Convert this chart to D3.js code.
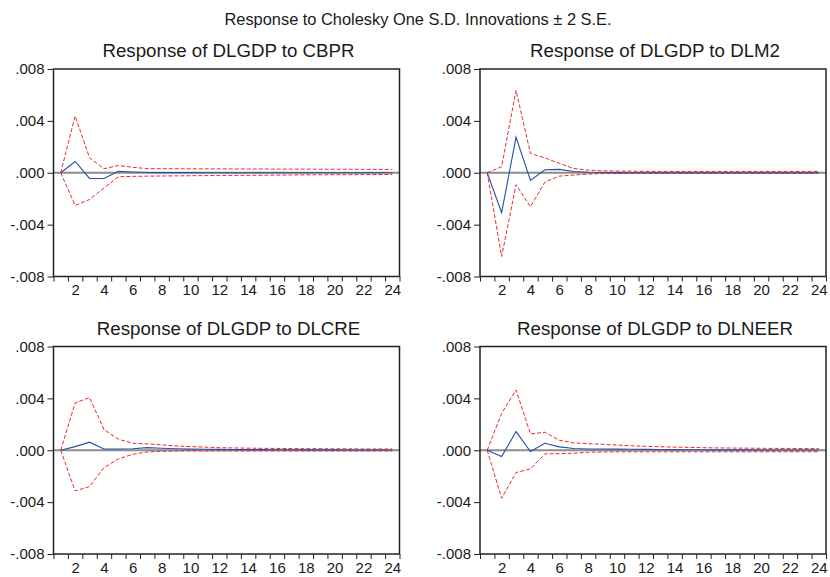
<!DOCTYPE html>
<html>
<head>
<meta charset="utf-8">
<script src="https://cdn.jsdelivr.net/npm/d3@7"></script>
<style>
  html, body { margin: 0; padding: 0; background: #fff; }
  svg { display: block; font-family: "Liberation Sans", Arial, sans-serif; }
</style>
</head>
<body>
<svg id="chart" width="830" height="577"></svg>
<script>
// Impulse responses of DLGDP, periods 1..24, with ±2 S.E. bands
const periods = d3.range(1, 25);
const yTicks = [-0.008, -0.004, 0, 0.004, 0.008];
const xLabelTicks = [2, 4, 6, 8, 10, 12, 14, 16, 18, 20, 22, 24];

const shocks = ["CBPR", "DLM2", "DLCRE", "DLNEER"];

const respCBPR  = [0, 0.00087, -0.00044, -0.00044, 0.00012, 0.00006, 0.00002, 0.00001, 0.00001, 0.00001, 0, 0, 0, 0, 0, 0, 0, 0, 0, 0, 0, 0, 0, 0];
const upperCBPR = [0, 0.00437, 0.00116, 0.00031, 0.00056, 0.00042, 0.00032, 0.00031, 0.00031, 0.00030, 0.00030, 0.00030, 0.00029, 0.00029, 0.00029, 0.00028, 0.00028, 0.00028, 0.00027, 0.00027, 0.00027, 0.00026, 0.00026, 0.00026];
const lowerCBPR = [0, -0.00252, -0.00206, -0.00118, -0.00031, -0.00028, -0.00026, -0.00025, -0.00024, -0.00023, -0.00022, -0.00021, -0.00020, -0.00020, -0.00019, -0.00018, -0.00017, -0.00016, -0.00016, -0.00015, -0.00015, -0.00014, -0.00014, -0.00013];

const respDLM2  = [0, -0.00308, 0.00274, -0.00059, 0.00023, 0.00026, 0.00010, 0.00004, 0.00002, 0.00001, 0, 0, 0, 0, 0, 0, 0, 0, 0, 0, 0, 0, 0, 0];
const upperDLM2 = [0, 0.00046, 0.00636, 0.00149, 0.00115, 0.00072, 0.00033, 0.00020, 0.00015, 0.00013, 0.00012, 0.00011, 0.00010, 0.00010, 0.00010, 0.00010, 0.00010, 0.00010, 0.00010, 0.00010, 0.00010, 0.00010, 0.00010, 0.00010];
const lowerDLM2 = [0, -0.00646, -0.00092, -0.00262, -0.00072, -0.00026, -0.00018, -0.00010, -0.00007, -0.00006, -0.00005, -0.00005, -0.00005, -0.00005, -0.00005, -0.00005, -0.00005, -0.00005, -0.00005, -0.00005, -0.00005, -0.00005, -0.00005, -0.00005];

const respDLCRE  = [0, 0.00028, 0.00062, 0.00010, 0.00010, 0.00012, 0.00020, 0.00015, 0.00011, 0.00009, 0.00008, 0.00007, 0.00006, 0.00005, 0.00005, 0.00004, 0.00004, 0.00003, 0.00003, 0.00003, 0.00002, 0.00002, 0.00002, 0.00002];
const upperDLCRE = [0, 0.00365, 0.00406, 0.00160, 0.00085, 0.00054, 0.00049, 0.00041, 0.00033, 0.00028, 0.00024, 0.00020, 0.00018, 0.00016, 0.00015, 0.00014, 0.00013, 0.00012, 0.00012, 0.00011, 0.00011, 0.00010, 0.00010, 0.00010];
const lowerDLCRE = [0, -0.00314, -0.00280, -0.00134, -0.00067, -0.00031, -0.00013, -0.00008, -0.00006, -0.00005, -0.00005, -0.00005, -0.00005, -0.00005, -0.00005, -0.00005, -0.00005, -0.00005, -0.00005, -0.00005, -0.00005, -0.00005, -0.00005, -0.00005];

const respDLNEER  = [0, -0.00049, 0.00144, -0.00010, 0.00054, 0.00026, 0.00013, 0.00010, 0.00010, 0.00009, 0.00008, 0.00007, 0.00006, 0.00005, 0.00004, 0.00004, 0.00003, 0.00003, 0.00003, 0.00002, 0.00002, 0.00002, 0.00002, 0.00002];
const upperDLNEER = [0, 0.00285, 0.00465, 0.00126, 0.00139, 0.00077, 0.00057, 0.00051, 0.00046, 0.00040, 0.00035, 0.00030, 0.00027, 0.00024, 0.00022, 0.00020, 0.00018, 0.00017, 0.00016, 0.00015, 0.00014, 0.00014, 0.00013, 0.00013];
const lowerDLNEER = [0, -0.00370, -0.00172, -0.00144, -0.00028, -0.00026, -0.00023, -0.00015, -0.00013, -0.00012, -0.00012, -0.00012, -0.00012, -0.00012, -0.00012, -0.00012, -0.00012, -0.00012, -0.00012, -0.00012, -0.00012, -0.00012, -0.00012, -0.00012];

const panels = [
  { shock: shocks[0], resp: respCBPR,   upper: upperCBPR,   lower: lowerCBPR,   left: 53.5, top: 69 },
  { shock: shocks[1], resp: respDLM2,   upper: upperDLM2,   lower: lowerDLM2,   left: 480,  top: 69 },
  { shock: shocks[2], resp: respDLCRE,  upper: upperDLCRE,  lower: lowerDLCRE,  left: 53.5, top: 346.5 },
  { shock: shocks[3], resp: respDLNEER, upper: upperDLNEER, lower: lowerDLNEER, left: 480,  top: 346.5 }
];
const plotW = 346, plotH = 207.5;

const svg = d3.select("#chart");

svg.append("text")
  .attr("x", 418).attr("y", 25)
  .attr("text-anchor", "middle")
  .attr("font-size", 16.4)
  .attr("fill", "#1a1a1a")
  .text("Response to Cholesky One S.D. Innovations \u00b1 2 S.E.");

// EViews-style tick labels: ".004", "-.004", ".000"
const fmtY = v => {
  const s = d3.format(".3f")(Math.abs(v)).replace(/^0\./, ".");
  return (v < 0 ? "-" : "") + s;
};

panels.forEach(p => {
  const g = svg.append("g").attr("transform", `translate(${p.left},${p.top})`);
  const x = d3.scaleLinear().domain([0.5, 24.5]).range([0, plotW]);
  const y = d3.scaleLinear().domain([-0.008, 0.008]).range([plotH, 0]);

  g.append("text")
    .attr("x", plotW / 2 + 2).attr("y", -12)
    .attr("text-anchor", "middle")
    .attr("font-size", 18.7)
    .attr("fill", "#1a1a1a")
    .text(`Response of DLGDP to ${p.shock}`);

  // zero reference line
  g.append("line")
    .attr("x1", 0).attr("x2", plotW)
    .attr("y1", y(0)).attr("y2", y(0))
    .attr("stroke", "#8c8c8c").attr("stroke-width", 2);

  const line = d3.line().x((d, i) => x(periods[i])).y(d => y(d));

  [p.upper, p.lower].forEach(band => {
    g.append("path")
      .attr("d", line(band))
      .attr("fill", "none")
      .attr("stroke", "#ee2a2a")
      .attr("stroke-width", 1)
      .attr("stroke-dasharray", "4,2");
  });

  g.append("path")
    .attr("d", line(p.resp))
    .attr("fill", "none")
    .attr("stroke", "#2450a8")
    .attr("stroke-width", 1.1);

  // y axis
  const ya = g.append("g")
    .call(d3.axisLeft(y).tickValues(yTicks).tickSize(6).tickPadding(3).tickFormat(fmtY));
  ya.select(".domain").remove();
  ya.selectAll("line").attr("stroke", "#222");
  ya.selectAll("text").attr("font-size", 15).attr("fill", "#1a1a1a")
    .attr("font-family", "Liberation Sans, Arial, sans-serif");

  // x axis: tick marks between periods, labels at even periods
  const xt = g.append("g").attr("transform", `translate(0,${plotH})`)
    .call(d3.axisBottom(x).tickValues(d3.range(0.5, 25, 1)).tickSize(5).tickFormat(""));
  xt.select(".domain").remove();
  xt.selectAll("line").attr("stroke", "#222");

  const xl = g.append("g").attr("transform", `translate(0,${plotH})`)
    .call(d3.axisBottom(x).tickValues(xLabelTicks).tickSize(0).tickPadding(8).tickFormat(d3.format("d")));
  xl.select(".domain").remove();
  xl.selectAll("text").attr("font-size", 15).attr("fill", "#1a1a1a")
    .attr("font-family", "Liberation Sans, Arial, sans-serif");

  // frame
  g.append("rect")
    .attr("x", 0).attr("y", 0).attr("width", plotW).attr("height", plotH)
    .attr("fill", "none").attr("stroke", "#222").attr("stroke-width", 1.5);
});
</script>
</body>
</html>
